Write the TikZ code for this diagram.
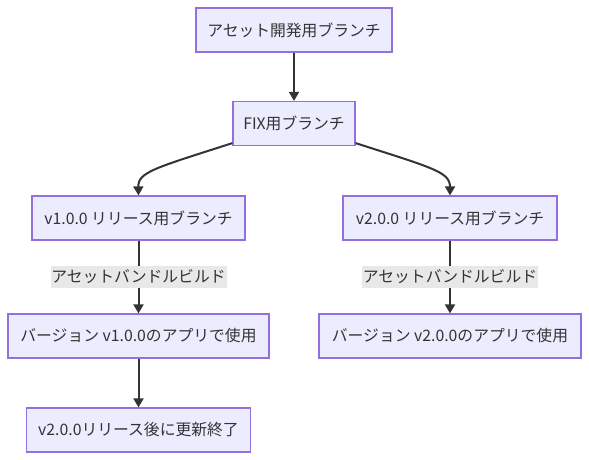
\documentclass[tikz,border=0pt]{standalone}
\usepackage{fontspec}
\setmainfont{Noto Sans CJK JP}
\usetikzlibrary{arrows.meta}
\definecolor{nodefill}{HTML}{ECECFF}
\definecolor{nodeline}{HTML}{9370DB}
\definecolor{edgecol}{HTML}{333333}
\definecolor{lblbg}{HTML}{E8E8E8}
\definecolor{txt}{HTML}{333333}
\tikzset{
  box/.style={draw=nodeline, fill=nodefill, line width=1.2pt, minimum height=44pt,
    inner sep=0pt, font=\fontsize{15.8}{18}\selectfont, text=txt},
  edgelbl/.style={fill=lblbg, inner sep=0pt, minimum height=22pt, font=\fontsize{15.8}{18}\selectfont, text=txt},
  conn/.style={draw=edgecol, line width=2pt, -{Triangle[length=9pt,width=10pt]}}
}
\begin{document}
\begin{tikzpicture}[x=1pt,y=-1pt]
\useasboundingbox (0,0) rectangle (589,460);
\node[box, minimum width=196pt] (A) at (294,30) {アセット開発用ブランチ};
\node[box, minimum width=122pt] (B) at (294,123.5) {FIX用ブランチ};
\node[box, minimum width=213pt] (C) at (138.5,218) {v1.0.0 リリース用ブランチ};
\node[box, minimum width=214pt] (D) at (450,218) {v2.0.0 リリース用ブランチ};
\node[box, minimum width=261pt] (E) at (138.5,336) {バージョン v1.0.0のアプリで使用};
\node[box, minimum width=262pt] (F) at (450,336) {バージョン v2.0.0のアプリで使用};
\node[box, minimum width=224pt] (G) at (138.5,430) {v2.0.0リリース後に更新終了};
\draw[conn] (A.south) -- (B.north);
\draw[conn] ([yshift=3pt]B.south west) .. controls (155,168) and (138,172) .. (C.north);
\draw[conn] ([yshift=3pt]B.south east) .. controls (433,168) and (450,172) .. (D.north);
\draw[conn] (C.south) -- node[edgelbl, minimum width=176pt] (L1) {アセットバンドルビルド} (E.north);
\draw[conn] (D.south) -- node[edgelbl, minimum width=176pt] (L2) {アセットバンドルビルド} (F.north);
\draw[conn] (E.south) -- (G.north);
\end{tikzpicture}
\end{document}
